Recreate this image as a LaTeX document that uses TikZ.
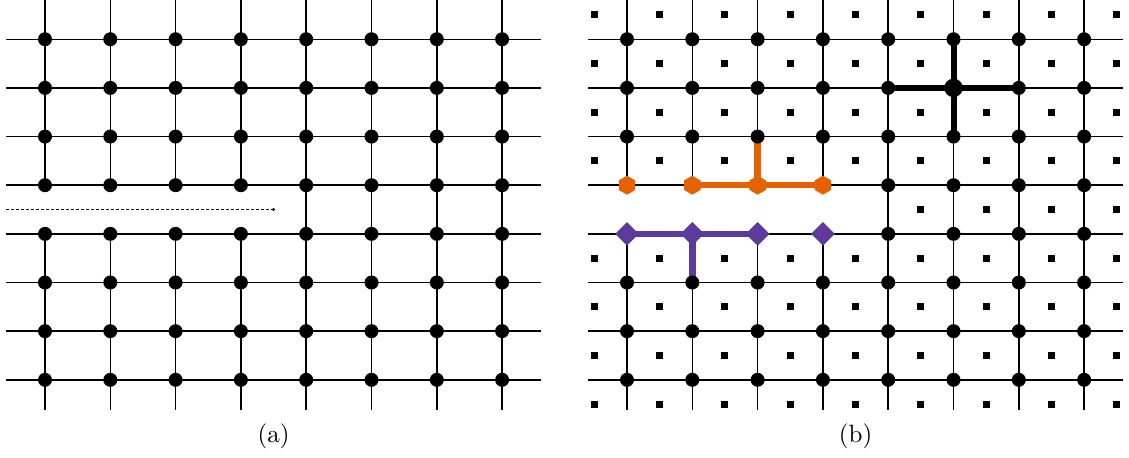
\documentclass[tikz,border=0pt]{standalone}
\usetikzlibrary{shapes.geometric}
\definecolor{bondorange}{HTML}{E66100}
\definecolor{bondpurple}{HTML}{5D3A9B}

\begin{document}
\begin{tikzpicture}[
  x=26.12pt,y=19.46pt,
  latline/.style={black,line width=0.6pt},
  cutline/.style={black,line width=0.4pt,dash pattern=on 1.2pt off 0.8pt},
  site/.style={circle,fill=black,inner sep=0pt,minimum size=5.6pt},
  bigsite/.style={circle,fill=black,inner sep=0pt,minimum size=7.4pt},
  enddot/.style={circle,fill=black,inner sep=0pt,minimum size=1.3pt},
  plaq/.style={rectangle,fill=black,inner sep=0pt,minimum size=2.8pt},
  hexsite/.style={regular polygon,regular polygon sides=6,shape border rotate=30,
    fill=bondorange,inner sep=0pt,minimum size=7.6pt},
  diasite/.style={diamond,fill=bondpurple,inner sep=0pt,minimum width=9.6pt,minimum height=9.6pt},
  orangebond/.style={bondorange,line width=2.6pt},
  purplebond/.style={bondpurple,line width=2.6pt},
  blackbond/.style={black,line width=2.4pt}
]
  \useasboundingbox (-0.689,-1.605) rectangle (16.6,7.807);

  % Panel (a): square lattice, cut between rows 3 and 4 on the left.
  \foreach \k in {0,...,7} {
    \draw[latline] (-0.6,\k) -- (7.6,\k);
  }
  \foreach \i in {0,...,3} {
    \draw[latline] (\i,-0.62) -- (\i,3);
    \draw[latline] (\i,4) -- (\i,7.81);
  }
  \foreach \i in {4,...,7} {
    \draw[latline] (\i,-0.62) -- (\i,7.81);
  }
  \coordinate (cutL) at (-0.6,3.5);
  \node[enddot] (cutR) at (3.5,3.5) {};
  \draw[cutline] (cutL) -- (cutR.center);
  \foreach \i in {0,...,7} {
    \foreach \j in {0,...,7} {
      \node[site] (a-\i-\j) at (\i,\j) {};
    }
  }
  \node (lbla) at (3.5,-1.17) {(a)};

  % Panel (b): same lattice with plaquettes and the string operators.
  \begin{scope}[xshift=232.8pt]
    \foreach \k in {0,...,7} {
      \draw[latline] (-0.6,\k) -- (7.6,\k);
    }
    \foreach \i in {0,...,3} {
      \draw[latline] (\i,-0.62) -- (\i,3);
      \draw[latline] (\i,4) -- (\i,7.81);
    }
    \foreach \i in {4,...,7} {
      \draw[latline] (\i,-0.62) -- (\i,7.81);
    }

    % plaquette centres (none inside the cut)
    \foreach \j in {0,1,2,3,5,6,7,8} {
      \foreach \i in {0,...,8} {
        \node[plaq] (p-\i-\j) at (\i-0.5,\j-0.5) {};
      }
    }
    \foreach \i in {5,...,8} {
      \node[plaq] (p-\i-4) at (\i-0.5,3.5) {};
    }

    \foreach \i in {0,...,7} {
      \foreach \j in {0,...,7} {
        \coordinate (b-\i-\j) at (\i,\j);
      }
    }

    % bonds
    \draw[orangebond] (b-1-4) -- (b-3-4);
    \draw[orangebond] (b-2-5) -- (b-2-4);
    \draw[purplebond] (b-0-3) -- (b-2-3);
    \draw[purplebond] (b-1-3) -- (b-1-2);
    \draw[blackbond] (b-4-6) -- (b-6-6);
    \draw[blackbond] (b-5-7) -- (b-5-5);

    % sites
    \foreach \i in {0,...,7} {
      \foreach \j in {0,1,2,5,6,7} {
        \node[site] at (b-\i-\j) {};
      }
    }
    \foreach \i in {4,...,7} {
      \node[site] at (b-\i-3) {};
      \node[site] at (b-\i-4) {};
    }
    \node[bigsite] at (b-5-6) {};
    \foreach \i in {0,...,3} {
      \node[hexsite] at (b-\i-4) {};
      \node[diasite] at (b-\i-3) {};
    }

    \node (lblb) at (3.5,-1.17) {(b)};
  \end{scope}
\end{tikzpicture}
\end{document}
